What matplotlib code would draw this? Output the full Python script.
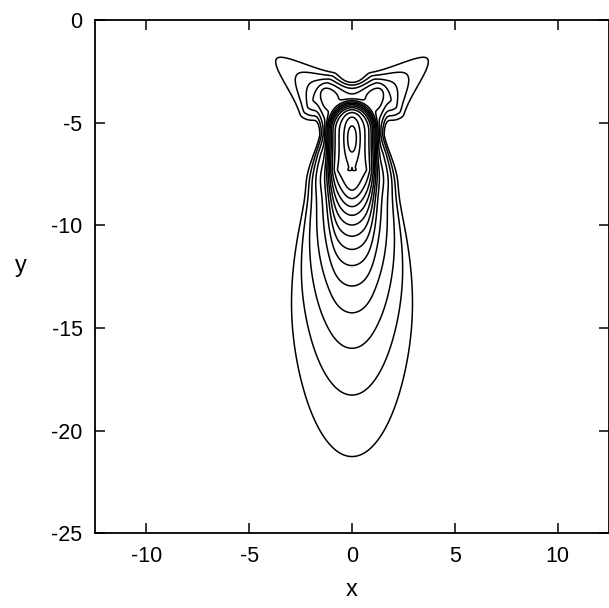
import numpy as np
import matplotlib.pyplot as plt

plt.rcParams['font.family'] = ['Liberation Sans', 'DejaVu Sans']
plt.rcParams['axes.unicode_minus'] = False

# axes
x_lim = [-12.5, 12.5]
y_lim = [-25, 0]
x_ticks = [-10, -5, 0, 5, 10]
y_ticks = [0, -5, -10, -15, -20, -25]

# tail (plume going down from the core)
tail_amp = 0.471
tail_src = -8.0
tail_pow = 1.25
tail_soft = 0.8
tail_cut = 0.6
tail_cut_side = 0.6
tail_spread = 0.5
tail_grow = 0.857
tail_base = 0.4
tail_shape = 1.5

# central peak
peak_amp = 1.23
peak_center = [0.0, -5.75]
peak_sigma_x = 0.25
peak_sigma_up = 0.7
peak_sigma_down = 0.8

# box with steep walls and a round top
box_amp = 0.97
box_halfwidth = 0.98
box_top = -5.44
box_top_w = 1.2
box_bot = -7.3
box_bot_w = 1.0
box_power = 5

# steep halo round the neck, widening downwards
halo_amp = 0.05
halo_halfwidth = 1.5
halo_widen = 0.2
halo_top = -5.6
halo_top_w = 2.35
halo_bot = -6.5
halo_bot_w = 2.5
halo_power = 8

# two wings at the top
wing_amp = 0.058
wing_centers = [[-1.55, -3.55], [1.55, -3.55]]
wing_tips = [[-3.77, -1.79], [3.77, -1.79]]
wing_scale_out = 0.55
wing_pow_out = 0.65
wing_sig_in = 0.7
wing_sig_side_up = 0.8
wing_sig_side_down = 0.95

# contour levels: geometric, lowest one is the outer contour
level_low = 0.0187
level_ratio = 1.39
n_levels = 15

x = np.linspace(x_lim[0], x_lim[1], 801)
y = np.linspace(y_lim[0], y_lim[1], 801)
X, Y = np.meshgrid(x, y)

# tail
u = tail_src - Y
d = np.sqrt(np.maximum(u, 0) ** 2 + tail_soft ** 2)
sig = np.sqrt((tail_spread * d ** tail_grow) ** 2 + tail_base ** 2)
tail = tail_amp * d ** -tail_pow * (1 + X ** 2 / (tail_shape * sig ** 2)) ** -tail_shape
cut = tail_cut + tail_cut_side * np.abs(X)
tail *= np.exp(-(np.maximum(-u, 0) / cut) ** 2)

# box
bx = np.abs(X) / box_halfwidth
by = np.maximum(Y - box_top, 0) / box_top_w
box = box_amp * np.exp(-np.sqrt(bx ** 2 + by ** 2) ** box_power)
box *= np.exp(-np.maximum(box_bot - Y, 0) / box_bot_w)

# halo
hw = halo_halfwidth + halo_widen * np.maximum(halo_top - Y, 0)
halo = halo_amp * np.exp(-(np.abs(X) / hw) ** halo_power
                         - (np.maximum(Y - halo_top, 0) / halo_top_w) ** halo_power)
halo *= np.exp(-np.maximum(halo_bot - Y, 0) / halo_bot_w)

# peak, held inside the top of the box
dy = Y - peak_center[1]
sy = np.where(dy > 0, peak_sigma_up, peak_sigma_down)
peak = peak_amp * np.exp(-0.5 * (((X - peak_center[0]) / peak_sigma_x) ** 2 + (dy / sy) ** 2))
peak *= np.exp(-by ** box_power)

# wings
wings = np.zeros_like(X)
for (cx, cy), (tx, ty) in zip(wing_centers, wing_tips):
    ex, ey = tx - cx, ty - cy
    n = np.hypot(ex, ey)
    ex, ey = ex / n, ey / n
    s_long = (X - cx) * ex + (Y - cy) * ey
    # positive on the upper side of the wing
    s_side = np.sign(ex) * (-(X - cx) * ey + (Y - cy) * ex)
    s_pos = np.sqrt(np.maximum(s_long, 0) ** 2 + 0.01) - 0.1
    along = np.where(s_long > 0,
                     (1 + s_pos / wing_scale_out) ** -wing_pow_out,
                     np.exp(-0.5 * (s_long / wing_sig_in) ** 2))
    ss = np.where(s_side > 0, wing_sig_side_up, wing_sig_side_down)
    wings += wing_amp * along * np.exp(-0.5 * (s_side / ss) ** 2)

field = tail + peak + box + halo + wings
levels = level_low * level_ratio ** np.arange(n_levels)

fig = plt.figure(figsize=(6.09, 6.08), dpi=100)
ax = fig.add_axes([0.156, 0.123, 0.844, 0.844])
ax.contour(X, Y, field, levels=levels, colors='black', linewidths=1.1)

ax.set_xlim(x_lim)
ax.set_ylim(y_lim)
ax.set_xticks(x_ticks)
ax.set_yticks(y_ticks)
ax.tick_params(direction='in', length=7, width=1.1, top=True, right=True,
               labelsize=15.5, pad=9)
for s in ax.spines.values():
    s.set_linewidth(1.3)
ax.set_xlabel('x', fontsize=17, labelpad=9)
ax.set_ylabel('y', fontsize=17, rotation=0, labelpad=22)

fig.savefig('out.png', dpi=100)
